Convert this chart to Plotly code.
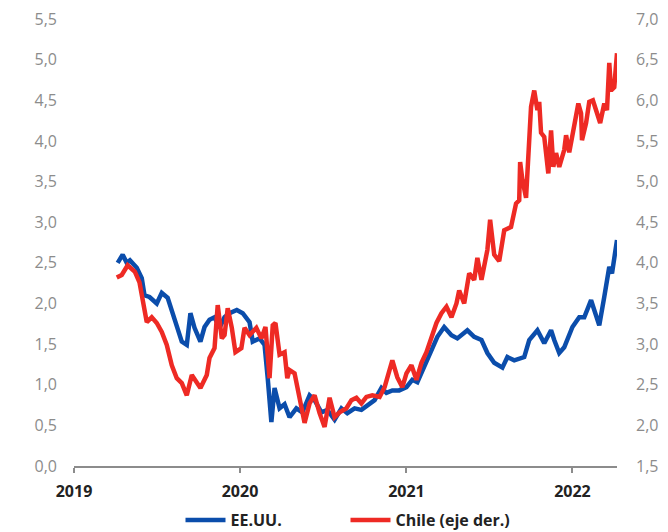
import plotly.graph_objects as go

us_dates = ["2019-04-07","2019-04-18","2019-04-27","2019-05-04","2019-05-19","2019-05-30","2019-06-05","2019-06-16",
            "2019-07-02","2019-07-13","2019-07-26","2019-08-04","2019-08-15","2019-08-26","2019-09-06","2019-09-14",
            "2019-09-23","2019-10-06","2019-10-15","2019-10-26","2019-11-06","2019-11-17","2019-11-28","2019-12-09",
            "2019-12-25","2020-01-07","2020-01-22","2020-01-29","2020-02-13","2020-02-24","2020-03-02","2020-03-10",
            "2020-03-17","2020-03-28","2020-04-08","2020-04-19","2020-05-04","2020-05-17","2020-06-02","2020-06-13",
            "2020-06-28","2020-07-11","2020-07-27","2020-08-11","2020-08-24","2020-09-09","2020-09-24","2020-10-07",
            "2020-10-23","2020-11-07","2020-11-18","2020-12-01","2020-12-16","2021-01-01","2021-01-14","2021-01-25",
            "2021-02-09","2021-02-25","2021-03-10","2021-03-25","2021-04-10","2021-04-23","2021-05-04","2021-05-15",
            "2021-05-30","2021-06-15","2021-06-28","2021-07-13","2021-07-31","2021-08-11","2021-08-26","2021-09-17",
            "2021-09-28","2021-10-16","2021-10-31","2021-11-15","2021-11-22","2021-12-03","2021-12-14","2022-01-01",
            "2022-01-16","2022-01-27","2022-02-11","2022-02-18","2022-03-01","2022-03-12","2022-03-23","2022-03-29",
            "2022-04-09"]
us_values = [2.50,2.60,2.50,2.53,2.44,2.31,2.10,2.08,
             2.00,2.13,2.07,1.92,1.70,1.53,1.49,1.88,
             1.70,1.53,1.71,1.80,1.83,1.70,1.83,1.88,
             1.92,1.88,1.77,1.53,1.57,1.49,1.08,0.54,
             0.96,0.71,0.76,0.60,0.71,0.66,0.87,0.81,
             0.66,0.69,0.57,0.71,0.65,0.71,0.69,0.75,
             0.81,0.96,0.90,0.93,0.93,0.97,1.06,1.03,
             1.22,1.43,1.59,1.71,1.61,1.57,1.62,1.67,
             1.59,1.55,1.39,1.27,1.21,1.34,1.30,1.34,
             1.55,1.67,1.51,1.67,1.55,1.39,1.46,1.71,
             1.83,1.83,2.04,1.92,1.73,2.08,2.45,2.37,
             2.78]

cl_dates = ["2019-04-05","2019-04-16","2019-04-29","2019-05-15","2019-05-25","2019-06-01","2019-06-10","2019-06-21",
            "2019-07-02","2019-07-13","2019-07-24","2019-08-04","2019-08-15","2019-08-26","2019-09-06","2019-09-17",
            "2019-09-28","2019-10-06","2019-10-20","2019-10-26","2019-11-06","2019-11-13","2019-11-22","2019-11-28",
            "2019-12-05","2019-12-14","2019-12-22","2020-01-04","2020-01-11","2020-01-22","2020-02-06","2020-02-17",
            "2020-02-26","2020-03-06","2020-03-13","2020-03-19","2020-03-28","2020-04-08","2020-04-14","2020-04-19",
            "2020-04-30","2020-05-11","2020-05-22","2020-06-02","2020-06-13","2020-06-24","2020-07-05","2020-07-16",
            "2020-07-27","2020-08-07","2020-08-22","2020-09-02","2020-09-13","2020-09-24","2020-10-05","2020-10-18",
            "2020-11-03","2020-11-14","2020-11-24","2020-12-01","2020-12-12","2020-12-23","2021-01-01","2021-01-12",
            "2021-01-23","2021-02-03","2021-02-14","2021-02-25","2021-03-08","2021-03-19","2021-03-30","2021-04-10",
            "2021-04-21","2021-04-27","2021-05-08","2021-05-19","2021-05-30","2021-06-06","2021-06-15","2021-06-28",
            "2021-07-04","2021-07-13","2021-07-24","2021-08-04","2021-08-19","2021-08-30","2021-09-06","2021-09-08",
            "2021-09-13","2021-09-21","2021-09-24","2021-09-28","2021-10-02","2021-10-09","2021-10-16","2021-10-20",
            "2021-10-24","2021-10-31","2021-11-09","2021-11-15","2021-11-20","2021-11-26","2021-12-03","2021-12-14",
            "2021-12-18","2021-12-25","2022-01-05","2022-01-14","2022-01-20","2022-01-22","2022-01-31","2022-02-07",
            "2022-02-15","2022-02-24","2022-03-03","2022-03-12","2022-03-18","2022-03-23","2022-03-27","2022-04-03",
            "2022-04-09"]
cl_values = [3.82,3.85,3.97,3.89,3.76,3.52,3.27,3.33,
             3.26,3.15,2.99,2.74,2.58,2.52,2.37,2.62,
             2.53,2.46,2.62,2.83,2.95,3.48,3.07,3.11,
             3.44,3.20,2.90,2.95,3.20,3.11,3.20,3.07,
             3.21,2.58,3.23,3.26,2.87,2.90,2.58,2.68,
             2.64,2.31,2.03,2.27,2.37,2.15,1.98,2.34,
             2.10,2.16,2.21,2.31,2.34,2.27,2.35,2.37,
             2.35,2.47,2.68,2.80,2.59,2.47,2.64,2.74,
             2.56,2.77,2.90,3.09,3.26,3.38,3.46,3.33,
             3.50,3.66,3.50,3.87,3.79,4.06,3.79,4.16,
             4.53,4.10,4.02,4.40,4.44,4.73,4.77,5.24,
             5.02,4.80,5.10,5.39,5.92,6.12,5.88,5.98,
             5.60,5.55,5.10,5.63,5.18,5.35,5.18,5.39,
             5.57,5.36,5.67,5.96,5.84,5.51,5.72,5.98,
             6.00,5.85,5.72,5.96,5.88,6.46,6.12,6.16,
             6.58]

left_ticks = [0, 0.5, 1, 1.5, 2, 2.5, 3, 3.5, 4, 4.5, 5, 5.5]
right_ticks = [1.5, 2, 2.5, 3, 3.5, 4, 4.5, 5, 5.5, 6, 6.5, 7]
year_ticks = ["2019-01-01", "2020-01-01", "2021-01-01", "2022-01-01"]
year_labels = ["2019", "2020", "2021", "2022"]

BLUE = "#0b4dab"
RED = "#ee2a24"
GRAY = "#8c8c8c"
FONT = "Open Sans"

fig = go.Figure()
fig.add_trace(go.Scatter(x=us_dates, y=us_values, name="EE.UU.", mode="lines",
                         line=dict(color=BLUE, width=4.5), yaxis="y"))
fig.add_trace(go.Scatter(x=cl_dates, y=cl_values, name="Chile (eje der.)", mode="lines",
                         line=dict(color=RED, width=4.5), yaxis="y2"))

fig.update_layout(
    width=668, height=532,
    margin=dict(l=74, r=51, t=19, b=66, autoexpand=False),
    paper_bgcolor="white", plot_bgcolor="white",
    separators=",.",
    font=dict(family=FONT, color="#222222"),
    showlegend=True,
    legend=dict(orientation="h", x=0.5, xanchor="center", y=-0.121, yanchor="middle",
                font=dict(size=16, color="#222222", family=FONT, weight="bold"),
                entrywidth=110, itemwidth=40, traceorder="normal"),
    xaxis=dict(type="date", range=["2019-01-01", "2022-04-09"],
               tickvals=year_ticks, ticktext=year_labels,
               tickfont=dict(size=16, color="#222222", family=FONT, weight="bold"),
               showgrid=False, zeroline=False,
               showline=True, linecolor=GRAY, linewidth=1.5,
               ticks="outside", ticklen=5, tickcolor=GRAY, tickwidth=1.5,
               ticklabelstandoff=5),
    yaxis=dict(range=[0, 5.5], tickvals=left_ticks, tickformat=".1f",
               tickfont=dict(size=16, color=GRAY, family=FONT),
               showgrid=False, zeroline=False, showline=False, ticks="",
               ticklabelstandoff=16),
    yaxis2=dict(range=[1.5, 7.0], tickvals=right_ticks, tickformat=".1f",
                overlaying="y", side="right",
                tickfont=dict(size=16, color=GRAY, family=FONT),
                showgrid=False, zeroline=False, showline=False, ticks="",
                ticklabelstandoff=18),
)

fig.write_html("out.html")
